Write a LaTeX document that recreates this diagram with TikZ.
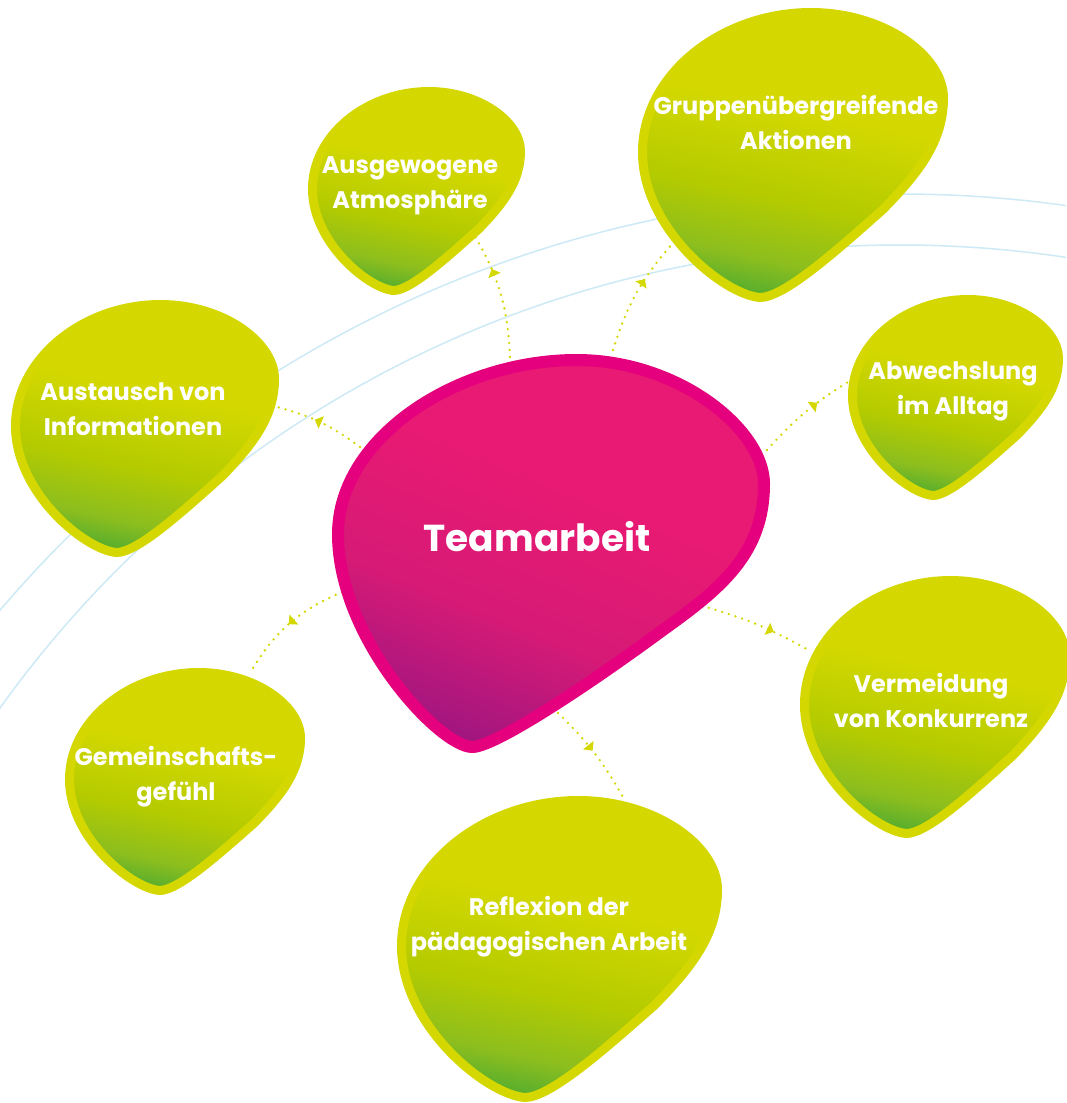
\documentclass[tikz,border=0pt]{standalone}
\usepackage{fontspec}
\setmainfont{Poppins}
\usetikzlibrary{arrows.meta,decorations.markings}

\definecolor{lime}{RGB}{212,216,0}
\definecolor{gmid}{RGB}{180,203,0}
\definecolor{gmidb}{RGB}{140,190,30}
\definecolor{gdark}{RGB}{88,174,46}
\definecolor{mag}{RGB}{229,0,125}
\definecolor{mtop}{RGB}{232,26,115}
\definecolor{mmid}{RGB}{214,26,118}
\definecolor{mbot}{RGB}{160,22,128}
\definecolor{arccol}{RGB}{205,234,246}

\pgfdeclareverticalshading{greenblob}{100bp}{color(0bp)=(gdark); color(25bp)=(gdark); color(31bp)=(gmidb); color(42bp)=(gmid); color(58bp)=(lime); color(100bp)=(lime)}
\pgfdeclareverticalshading{magblob}{100bp}{color(0bp)=(mbot); color(24bp)=(mbot); color(40bp)=(mmid); color(58bp)=(mtop); color(100bp)=(mtop)}

\newcommand\greenblob[4]{%
  \pgfmathsetmacro\bx{#1+4.5}\pgfmathsetmacro\by{#2+4.5}%
  \pgfmathsetmacro\bw{#3-9}\pgfmathsetmacro\bh{#4-9}%
  \begin{scope}[shift={(\bx,\by)},xscale=\bw,yscale=\bh]
    \shade[shading=greenblob, shading angle=-12, draw=lime, line width=9pt, line join=round]
      (0.56,0) .. controls (0.80,0) and (1,0.15) .. (1,0.30)
      .. controls (1,0.45) and (0.92,0.56) .. (0.80,0.69)
      .. controls (0.64,0.84) and (0.47,1) .. (0.39,1)
      .. controls (0.27,0.99) and (0,0.76) .. (0,0.49)
      .. controls (0,0.22) and (0.26,0) .. (0.56,0) -- cycle;
  \end{scope}}

\newcommand\magblob[4]{%
  \pgfmathsetmacro\bx{#1+6}\pgfmathsetmacro\by{#2+6}%
  \pgfmathsetmacro\bw{#3-12}\pgfmathsetmacro\bh{#4-12}%
  \begin{scope}[shift={(\bx,\by)},xscale=\bw,yscale=\bh]
    \shade[shading=magblob, shading angle=-22, draw=mag, line width=12pt, line join=round]
      (0.56,0) .. controls (0.80,0) and (1,0.18) .. (1,0.32)
      .. controls (1,0.50) and (0.90,0.59) .. (0.76,0.70)
      .. controls (0.60,0.83) and (0.37,1) .. (0.315,1)
      .. controls (0.24,1) and (0,0.72) .. (0,0.45)
      .. controls (0,0.2) and (0.28,0) .. (0.56,0) -- cycle;
  \end{scope}}

\tikzset{
  conn/.style={draw=lime, line width=2.6pt, line cap=round, dash pattern=on 0pt off 7pt,
    postaction={decorate},
    decoration={markings, mark=at position #1 with {\arrow[lime]{Triangle[length=7pt,width=13pt]}}}},
  lbl/.style={text=white, font=\bfseries\fontsize{24}{35}\selectfont, align=center, inner sep=0pt},
  arcline/.style={draw=arccol, line width=1.5pt}
}

\begin{document}
\begin{tikzpicture}[x=1pt,y=-1pt]
\useasboundingbox (0,0) rectangle (1066,1103);
\fill[white] (0,0) rectangle (1066,1103);

% background arcs
\begin{scope}
\clip (0,0) rectangle (1066,1103);
\draw[arcline] (900,1375) circle [radius=1181];
\draw[arcline] (900,1351) circle [radius=1106];
\end{scope}

% connector end points
\coordinate (s1) at (510,357); \coordinate (e1) at (473,233);
\coordinate (s2) at (613,350); \coordinate (e2) at (673,243);
\coordinate (s3) at (360,447); \coordinate (e3) at (277,407);
\coordinate (s4) at (767,450); \coordinate (e4) at (848,382);
\coordinate (s5) at (702,606); \coordinate (e5) at (810,651);
\coordinate (s6) at (558,713); \coordinate (e6) at (623,797);
\coordinate (s7) at (342,592); \coordinate (e7) at (250,673);

\draw[conn=0.69] (s1) to[bend right=14] (e1);
\draw[conn=0.63] (s2) to[bend left=12] (e2);
\draw[conn=0.57] (s3) to[bend right=11] (e3);
\draw[conn=0.65] (s4) to[bend left=8] (e4);
\draw[conn=0.65] (s5) to[bend left=7] (e5);
\draw[conn=0.48] (s6) to[bend left=8] (e6);
\draw[conn=0.50] (s7) to[bend right=18] (e7);

% blobs
\greenblob{308}{87}{217}{208}
\greenblob{638}{8}{310}{294}
\greenblob{11}{300}{268}{257}
\greenblob{848}{295}{215}{205}
\greenblob{800}{576}{270}{262}
\greenblob{65}{668}{240}{227}
\greenblob{397}{796}{325}{306}
\magblob{332}{354}{438}{399}

% labels
\node[lbl] (t1) at (410,186) {Ausgewogene\\Atmosphäre};
\node[lbl] (t2) at (796,122) {Gruppenübergreifende\\Aktionen};
\node[lbl] (t3) at (133,409) {Austausch von\\Informationen};
\node[lbl] (t4) at (953,391) {Abwechslung\\im Alltag};
\node[lbl] (t5) at (931,700) {Vermeidung\\von Konkurrenz};
\node[lbl] (t6) at (176,777) {Gemeinschafts-\\gefühl};
\node[lbl] (t7) at (549,927) {Reflexion der\\pädagogischen Arbeit};
\node[text=white, font=\bfseries\fontsize{37.5}{40}\selectfont, inner sep=0pt] (main) at (537,537) {Teamarbeit};
\end{tikzpicture}
\end{document}
